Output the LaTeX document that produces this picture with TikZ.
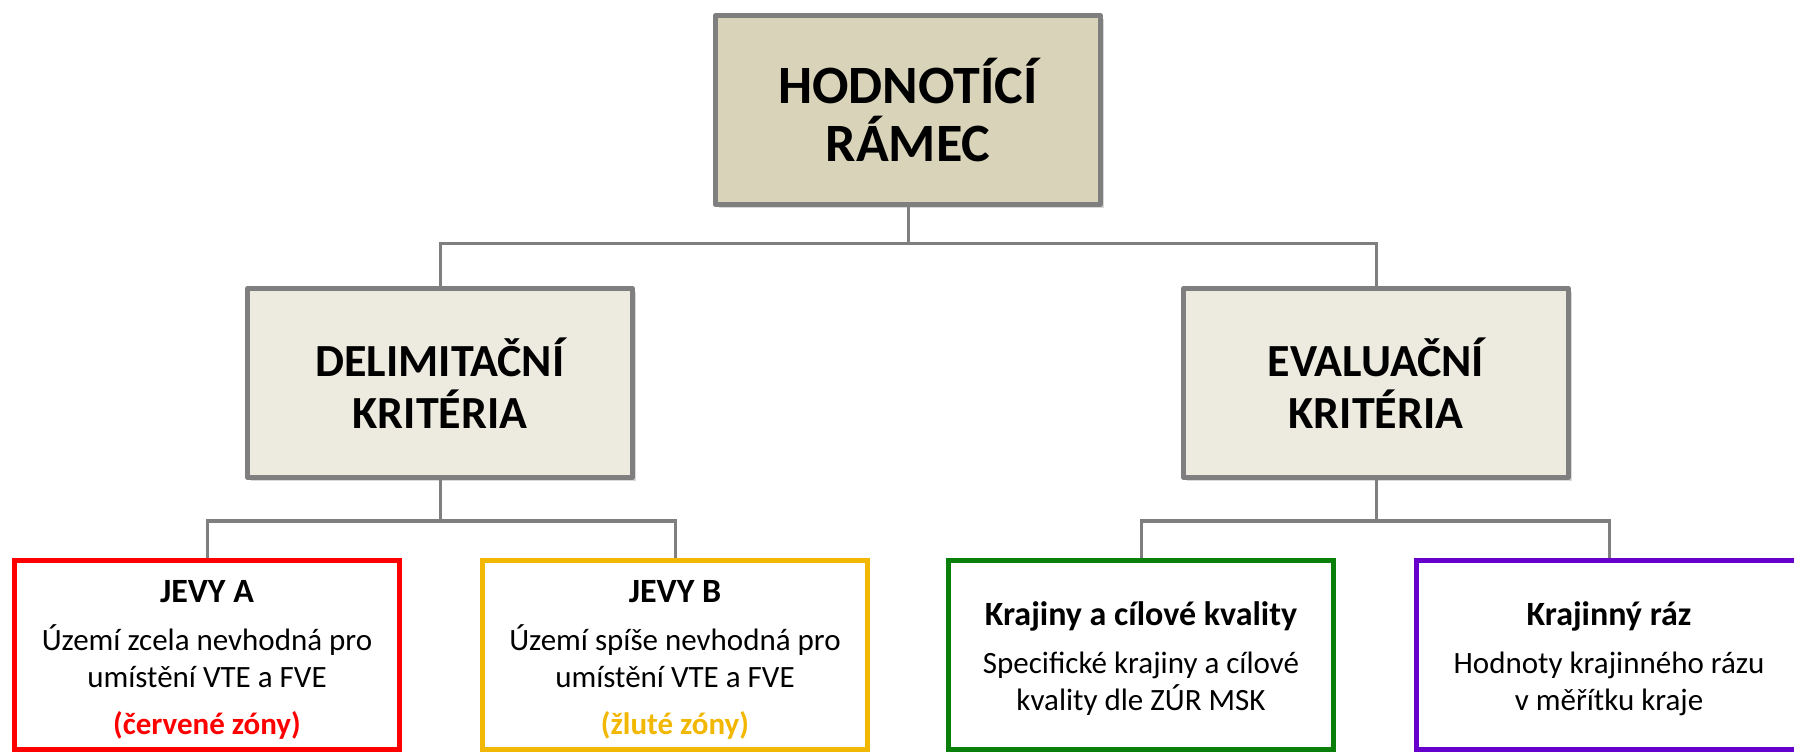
\documentclass[tikz,border=0pt]{standalone}
\usepackage{fontspec}
\setmainfont{Carlito}
\usepackage{xcolor}
\usetikzlibrary{positioning,shadows}

\definecolor{framegray}{HTML}{7F7F7F}
\definecolor{tanfill}{HTML}{D8D3B9}
\definecolor{lightfill}{HTML}{EDEAE0}
\definecolor{zonered}{HTML}{FF0000}
\definecolor{zoneyellow}{HTML}{F2B700}
\definecolor{landgreen}{HTML}{0A800A}
\definecolor{charviolet}{HTML}{6600CC}
\newcommand{\leadstrut}{\rule{0pt}{15.5pt}}

\begin{document}
\begin{tikzpicture}[
        x=0.5pt, y=-0.5pt,
        hbox/.style={draw=framegray, line width=2.5pt, align=center, inner sep=0pt,
            minimum width=192.5pt, minimum height=94.5pt, line join=round,
            drop shadow={shadow xshift=1.5pt, shadow yshift=-2pt, opacity=0.3}},
        topbox/.style={hbox, fill=tanfill, font=\fontsize{27}{29}\selectfont\bfseries},
        midbox/.style={hbox, fill=lightfill, font=\fontsize{23}{26}\selectfont\bfseries},
        leafbox/.style={draw=#1, fill=white, line width=2.5pt, align=center, inner sep=0pt,
            minimum width=192.5pt, minimum height=94.5pt, font=\fontsize{15.5}{18.5}\selectfont},
        conn/.style={draw=framegray, line width=1.5pt}
    ]
        \clip (0,0) rectangle (1794,753);
        \node[topbox] (frame) at (908,110) {HODNOTÍCÍ\\RÁMEC};
        \node[midbox, below=39.5pt of frame, xshift=-234pt] (delim) {DELIMITAČNÍ\\KRITÉRIA};
        \node[midbox, below=39.5pt of frame, xshift=234pt] (eval) {EVALUAČNÍ\\KRITÉRIA};
        \node[leafbox=zonered, below=39pt of delim, xshift=-116.5pt] (jevya)
            {\leadstrut{\fontsize{17}{20}\selectfont\bfseries JEVY A}\\[5.5pt]
             Území zcela nevhodná pro\\umístění VTE a FVE\\[5pt]
             {\bfseries\color{zonered}(červené zóny)}};
        \node[leafbox=zoneyellow, below=39pt of delim, xshift=117.5pt] (jevyb)
            {\leadstrut{\fontsize{17}{20}\selectfont\bfseries JEVY B}\\[5.5pt]
             Území spíše nevhodná pro\\umístění VTE a FVE\\[5pt]
             {\bfseries\color{zoneyellow}(žluté zóny)}};
        \node[leafbox=landgreen, below=39pt of eval, xshift=-117.5pt] (krajiny)
            {\leadstrut{\fontsize{17}{20}\selectfont\bfseries Krajiny a cílové kvality}\\[5.5pt]
             Specifické krajiny a cílové\\kvality dle ZÚR MSK};
        \node[leafbox=charviolet, below=39pt of eval, xshift=116.5pt] (raz)
            {\leadstrut{\fontsize{17}{20}\selectfont\bfseries Krajinný ráz}\\[5.5pt]
             Hodnoty krajinného rázu\\v měřítku kraje};
        % spojnice
        \draw[conn] (frame.south) -- ++(0,37) coordinate (topsplit);
        \draw[conn] (delim.north) |- (topsplit) -| (eval.north);
        \draw[conn] (delim.south) -- ++(0,41) coordinate (delimsplit);
        \draw[conn] (jevya.north) |- (delimsplit) -| (jevyb.north);
        \draw[conn] (eval.south) -- ++(0,41) coordinate (evalsplit);
        \draw[conn] (krajiny.north) |- (evalsplit) -| (raz.north);
    \end{tikzpicture}
\end{document}
